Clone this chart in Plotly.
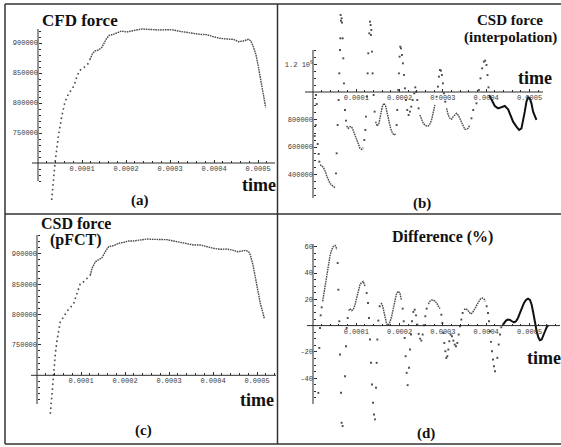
import plotly.graph_objects as go

W, H = 561, 447

# ---------------- data ----------------
# (a) CFD force [N] against time [microseconds]
cfd_t_us = [31.1, 38.6, 46.2, 53.8, 61.4, 68.9, 76.5, 81.8, 87.9, 93.9,
            99.2, 106.8, 112.1, 118.2, 124.2, 129.5, 137.1, 144.7, 150.0, 156.1,
            162.1, 171.2, 182.6, 190.2, 201.5, 212.9, 224.2, 235.6, 247.0, 262.1,
            277.3, 292.4, 307.6, 322.7, 337.9, 353.0, 368.2, 383.3, 398.5, 413.6,
            428.8, 443.9, 455.3, 466.7, 478.0, 483.3, 489.4, 495.5, 500.8, 506.1,
            510.6, 514.4, 517.4]
cfd_force = [638300, 699500, 743900, 777200, 802200, 814400, 822800, 828300, 842800, 853900,
             856700, 860600, 863300, 872800, 882800, 886700, 888300, 892200, 899400, 907800,
             912800, 914400, 917800, 920000, 918300, 920500, 921700, 923300, 922800, 922800,
             921700, 922200, 921700, 919400, 917200, 916100, 914400, 913900, 910500, 907800,
             906700, 906100, 902200, 903300, 906100, 903900, 893900, 880000, 860600, 838300,
             818900, 805000, 792800]

# (c) CSD force obtained with pFCT
pfct_t_us = [30.3, 34.1, 37.9, 41.7, 45.5, 49.2, 53.0, 60.6, 68.2, 75.8,
             83.3, 90.9, 98.5, 106.1, 113.6, 121.2, 125.0, 132.6, 140.2, 147.7,
             155.3, 162.9, 174.2, 185.6, 197.0, 208.3, 219.7, 234.8, 250.0, 265.2,
             280.3, 295.5, 310.6, 325.8, 340.9, 356.1, 371.2, 386.4, 401.5, 416.7,
             431.8, 447.0, 454.5, 462.1, 473.5, 481.1, 484.8, 490.9, 496.2, 501.5,
             507.6, 512.9, 516.7]
pfct_force = [636800, 672500, 705500, 735700, 757700, 776900, 787900, 796200, 805500, 811000,
              818100, 834600, 851100, 853900, 859400, 864900, 875800, 886800, 889600, 893400,
              903300, 911600, 913200, 917100, 918700, 920900, 920900, 922500, 924200, 923600,
              923100, 923100, 920900, 918700, 916500, 914300, 914300, 911000, 908800, 907200,
              907700, 905500, 903300, 903900, 905500, 903300, 897800, 881300, 859400, 837400,
              818100, 804400, 793400]

# (b) CSD force obtained by interpolation: smooth stretches (None separates them)
interp_curve_t_us = [16.2, 20.0, 23.8, 27.7, 31.5, 35.4, 39.2, 43.1, 46.9, 50.8, None,
                     77.7, 81.5, 85.4, 89.2, 93.1, 96.9, 100.7, 104.6, 108.5, 112.3, 116.2, None,
                     144.6, 148.5, 152.3, 156.2, 160.0, 163.8, 167.7, 171.5, 175.4, 179.2, 183.1, 186.9, 190.8, None,
                     246.9, 250.8, 254.6, 258.5, 262.3, 266.2, 270.0, 273.8, 277.7, 281.5, None,
                     308.5, 312.3, 316.2, 320.0, 323.8, 327.6, 331.4, 335.3, 339.1, 343.0, 346.8, 350.7, 354.5, 358.3, 362.2]
interp_curve_force = [469100, 464300, 452200, 427900, 391600, 360000, 335800, 323700, 311600, 304300, None,
                      752800, 735800, 747900, 747900, 718800, 687300, 650900, 614600, 590300, 583100, 595200, None,
                      784300, 752800, 772100, 832700, 893300, 917600, 898200, 844900, 784300, 735800, 704300, 687300, 694600, None,
                      832700, 796400, 772100, 760000, 752800, 752800, 767300, 796400, 844900, 905500, None,
                      881200, 832700, 808500, 801200, 820600, 832700, 844900, 832700, 808500, 777000, 747900, 728500, 728500, 735800, 760000]
# final, densely sampled stretch
interp_tail_t_us = [406.8, 412.2, 419.9, 427.6, 435.3, 442.9, 450.6, 456.0, 462.1, 469.8, 476.0,
                    481.4, 485.2, 489.1, 492.9, 496.8, 500.6, 504.5, 508.3, 512.2, 516.0]
interp_tail_force = [978200, 941800, 898200, 881200, 888500, 898200, 873900, 832700, 784300, 747900, 723700,
                     735800, 784300, 857000, 929700, 961200, 953900, 917600, 857000, 820600, 796400]
# isolated samples
interp_dots_t_us = [6.9, 8.5, 6.2, 3.8, 10.8, 13.1, 14.6,
                    53.1, 54.6, 56.9, 59.2, 60.8, 62.3, 63.1, 64.6, 63.8, 66.1, 66.9, 68.5, 70.0, 71.5, 73.8, 76.2,
                    118.5, 120.8, 122.3, 124.6, 126.2, 127.7, 130.0, 131.5, 133.1, 134.6, 133.8, 136.2, 137.7, 140.0, 142.3,
                    193.1, 194.6, 196.9, 198.5, 200.0, 201.5, 203.1, 205.4, 207.7, 210.0, 212.3, 214.6, 217.7, 220.8,
                    223.8, 226.9, 230.0, 233.8, 236.2, 238.5, 240.8, 243.8,
                    285.4, 288.5, 290.8, 293.1, 295.4, 297.7, 300.0, 302.3, 305.4,
                    366.0, 369.9, 377.6, 383.0, 386.8, 390.7, 394.5, 397.6, 400.7, 403.0, 405.3]
interp_dots_force = [978200, 912700, 760000, 680000, 621800, 549100, 493400,
                     408500, 554000, 760000, 941800, 1135700, 1305400, 1390300, 1518700, 1559900, 1535700, 1504200,
                     1390300, 1244800, 1063000, 869100, 791500,
                     650900, 723700, 820600, 966100, 1135700, 1281200, 1426600, 1511500, 1487200, 1450900, 1414500,
                     1293300, 1135700, 978200, 857000,
                     760000, 869100, 1014500, 1135700, 1256900, 1329700, 1317500, 1269100, 1208500, 1123600, 1026700,
                     941800, 869100, 832700, 857000, 893300, 941800, 990300, 1033900, 1002400, 941800, 881200,
                     966100, 1038800, 1111500, 1160000, 1155100, 1123600, 1063000, 990300, 929700,
                     808500, 869100, 917600, 1014500, 1099400, 1172100, 1220600, 1227900, 1196300, 1123600, 1033900]

# (d) difference between the two forces [%]
diff_curve_t_us = [22.3, 25.4, 28.5, 31.6, 35.4, 39.3, 43.1, 47.0, 50.8, 53.1, 54.7, None,
                   82.4, 85.4, 89.3, 93.1, 97.0, 100.8, 104.7, 108.5, 112.4, 116.2, 120.1, None,
                   157.0, 160.1, 163.2, 166.3, 170.1, 174.0, 177.8, 181.7, 185.5, 189.4, 193.2, 197.1, 200.9, 204.0, None,
                   266.4, 270.2, 274.1, 277.9, 281.7, 285.6, 289.4, 293.3, None,
                   348.7, 352.6, 356.4, 360.3, 364.1, 368.0, 371.8, 375.7, 379.5, 383.4, 387.2, 391.1, 394.9, 398.0]
diff_curve_pct = [18.5, 24.8, 31.1, 38.7, 46.3, 53.1, 57.7, 60.2, 61.0, 60.2, 57.7, None,
                  11.4, 12.9, 11.4, 12.1, 15.9, 21.0, 27.3, 31.1, 32.9, 33.6, 29.9, None,
                  17.2, 15.9, 11.4, 5.8, 1.3, 0.3, 2.8, 7.1, 13.9, 20.5, 24.8, 26.1, 24.5, 19.7, None,
                  16.4, 18.5, 19.5, 19.5, 18.5, 17.2, 14.7, 12.9, None,
                  12.1, 12.9, 12.1, 10.4, 8.9, 9.6, 11.4, 13.9, 16.4, 19.0, 20.5, 21.0, 20.2, 18.5]
diff_tail_t_us = [438.0, 441.9, 445.7, 450.3, 455.0, 459.6, 464.2, 468.8, 473.4, 478.0, 482.7, 487.3, 491.9,
                  496.5, 501.1, 505.0, 508.8, 512.7, 516.5, 520.4, 524.2, 528.1, 531.9, 535.8, 539.6, 543.5]
diff_tail_pct = [0.3, 2.0, 3.8, 4.6, 4.3, 3.3, 2.5, 3.3, 5.8, 9.6, 13.9, 17.2, 19.5,
                 20.5, 19.5, 15.9, 9.6, 2.0, -4.3, -8.9, -11.1, -10.6, -8.1, -4.3, -1.3, 0.3]
diff_dots_t_us = [12.3, 14.6, 16.2, 17.7, 20.0,
                  57.0, 58.5, 60.8, 62.4, 64.7, 66.2, 68.5, 73.9, 76.2, 77.7, 80.1,
                  123.9, 127.0, 129.3, 131.6, 134.0, 136.3, 138.6, 140.9, 143.2, 145.5, 147.0, 148.6, 150.9, 154.0,
                  207.1, 209.4, 211.7, 214.0, 216.3, 218.6, 221.7, 224.0, 226.3, 228.6, 231.7, 234.8, 237.9, 240.9,
                  244.0, 247.1, 250.2, 253.3, 256.3, 259.4, 262.5,
                  296.4, 298.7, 301.0, 303.3, 305.6, 307.9, 310.2, 312.5, 314.8, 317.9, 321.0, 324.1, 327.2, 330.2,
                  333.3, 336.4, 339.5, 342.6, 345.6,
                  401.1, 404.1, 406.5, 408.8, 411.1, 413.4, 415.7, 418.0, 420.3, 425.7, 428.8, 431.9, 434.9]
diff_dots_pct = [-51.1, -17.0, -1.8, 7.8, 13.9,
                 47.6, 27.3, 3.3, -22.0, -51.1, -73.9, -76.4, -38.5, -15.7, -1.8, 5.8,
                 24.8, 17.2, 5.8, -10.6, -28.3, -44.8, -58.7, -67.6, -71.3, -47.3, -28.3, -10.6, 3.8, 14.7,
                 12.9, 3.3, -9.4, -23.3, -35.9, -45.3, -32.1, -18.2, -6.8, 3.3, 10.4, 12.1, 7.8, 0.8,
                 -6.3, -9.9, -11.4, -6.8, 0.3, 7.1, 12.9,
                 8.3, 2.0, -5.6, -13.2, -19.5, -24.5, -23.3, -18.2, -11.9, -6.8, -8.1, -11.4, -14.4, -15.7,
                 -13.2, -6.8, -0.5, 4.6, 9.6,
                 14.7, 9.6, 3.3, -4.3, -12.4, -19.5, -25.8, -30.9, -34.7, -24.5, -14.4, -6.8, -1.3]

time_ticks = [0.0001, 0.0002, 0.0003, 0.0004, 0.0005]
time_tick_labels = ["0.0001", "0.0002", "0.0003", "0.0004", "0.0005"]
force_ticks = [750000, 800000, 850000, 900000]
force_tick_labels = ["750000", "800000", "850000", "900000"]
interp_ticks = [400000, 600000, 800000, 1200000]
interp_tick_labels = ["400000", "600000", "800000", "1.2 10<sup>6</sup>"]
diff_ticks = [-40, -20, 20, 40, 60]
diff_tick_labels = ["-40", "-20", "20", "40", "60"]


def seconds(ts):
    return [None if t is None else t * 1e-6 for t in ts]


# ---------------- panel geometry (pixels) ----------------
# ox: pixel of t = 0, sx: pixels per second; oy: pixel of value vref, sy: pixels per unit
panels = [
    dict(name="a", dom=(6, 277, 5, 213), ox=38, sx=44 / 1e-4, oy=163, vref=700000, sy=30 / 50000,
         xline=(32, 275), yline=(29, 181), ymin_step=10000,
         yt=force_ticks, ytl=force_tick_labels),
    dict(name="b", dom=(278, 561, 5, 213), ox=313, sx=43.3 / 1e-4, oy=92, vref=1000000, sy=27.5 / 200000,
         xline=(305, 543), yline=(50, 198), ymin_step=50000,
         yt=interp_ticks, ytl=interp_tick_labels),
    dict(name="c", dom=(6, 277, 215, 443), ox=37, sx=44 / 1e-4, oy=375.3, vref=700000, sy=30.4 / 50000,
         xline=(31, 276), yline=(235, 404), ymin_step=10000,
         yt=force_ticks, ytl=force_tick_labels),
    dict(name="d", dom=(278, 561, 215, 443), ox=313, sx=43.3 / 1e-4, oy=325.6, vref=0, sy=26.3 / 20,
         xline=(307, 560), yline=(244, 404), ymin_step=5,
         yt=diff_ticks, ytl=diff_tick_labels),
]


def px_t(p, px):
    return (px - p["ox"]) / p["sx"]


def py_v(p, py):
    return p["vref"] + (p["oy"] - py) / p["sy"]


INK = "#2b2b2b"
DOT = "#4a4a4a"
TICKFONT = dict(family="Liberation Mono", size=7, color="#3a3a3a")

fig = go.Figure()
layout = dict(width=W, height=H, margin=dict(l=0, r=0, t=0, b=0),
              paper_bgcolor="white", plot_bgcolor="rgba(0,0,0,0)", showlegend=False)
shapes = []

for i, p in enumerate(panels, start=1):
    sfx = "" if i == 1 else str(i)
    x0, x1, y0, y1 = p["dom"]
    t_lo, t_hi = px_t(p, p["xline"][0]), px_t(p, p["xline"][1])
    v_lo, v_hi = py_v(p, p["yline"][1]), py_v(p, p["yline"][0])

    step_t = 2e-5
    xminor = [k * step_t for k in range(int(t_lo / step_t), int(t_hi / step_t) + 1)
              if k != 0 and k % 5 != 0 and t_lo <= k * step_t <= t_hi]
    ys = p["ymin_step"]
    yminor = [k * ys for k in range(int(v_lo / ys), int(v_hi / ys) + 1)
              if v_lo <= k * ys <= v_hi and k * ys != p["vref"] and k * ys not in p["yt"]]

    layout["xaxis" + sfx] = dict(
        domain=[x0 / W, x1 / W], range=[px_t(p, x0), px_t(p, x1)],
        anchor="free", position=1 - p["oy"] / H,
        showgrid=False, zeroline=False, showline=False,
        tickmode="array", tickvals=time_ticks, ticktext=time_tick_labels,
        ticks="inside", ticklen=3, tickwidth=1, tickcolor=INK, tickfont=TICKFONT,
        minor=dict(tickmode="array", tickvals=xminor, ticks="inside", ticklen=2, tickwidth=1, tickcolor=INK),
        fixedrange=True)
    layout["yaxis" + sfx] = dict(
        domain=[1 - y1 / H, 1 - y0 / H], range=[py_v(p, y1), py_v(p, y0)],
        anchor="free", position=p["ox"] / W,
        showgrid=False, zeroline=False, showline=False,
        tickmode="array", tickvals=p["yt"], ticktext=p["ytl"],
        ticks="inside", ticklen=3, tickwidth=1, tickcolor=INK, tickfont=TICKFONT,
        minor=dict(tickmode="array", tickvals=yminor, ticks="inside", ticklen=2, tickwidth=1, tickcolor=INK),
        fixedrange=True)

    xr, yr = "x" + sfx, "y" + sfx
    shapes.append(dict(type="line", xref=xr, yref=yr, x0=t_lo, x1=t_hi, y0=p["vref"], y1=p["vref"],
                       line=dict(color=INK, width=1)))
    shapes.append(dict(type="line", xref=xr, yref=yr, x0=0, x1=0, y0=v_lo, y1=v_hi,
                       line=dict(color=INK, width=1)))
    p["xr"], p["yr"] = xr, yr


def add_sparse_line(p, t, v):
    fig.add_trace(go.Scatter(x=seconds(t), y=v, mode="lines", xaxis=p["xr"], yaxis=p["yr"],
                             line=dict(color=DOT, width=1.6, dash="1.6px,3.2px"), hoverinfo="skip"))


def add_dense_line(p, t, v, width=1.4, dash="1.6px,0.8px", color=DOT):
    fig.add_trace(go.Scatter(x=seconds(t), y=v, mode="lines", xaxis=p["xr"], yaxis=p["yr"],
                             line=dict(color=color, width=width, dash=dash), connectgaps=False,
                             hoverinfo="skip"))


def add_dots(p, t, v):
    fig.add_trace(go.Scatter(x=seconds(t), y=v, mode="markers", xaxis=p["xr"], yaxis=p["yr"],
                             marker=dict(color=DOT, size=1.9, symbol="square", line=dict(width=0)),
                             cliponaxis=False, hoverinfo="skip"))


pa, pb, pc, pd = panels
# (a)
ka = 13
add_sparse_line(pa, cfd_t_us[:ka + 1], cfd_force[:ka + 1])
add_dense_line(pa, cfd_t_us[ka:], cfd_force[ka:])
# (c)
kc = 15
add_sparse_line(pc, pfct_t_us[:kc + 1], pfct_force[:kc + 1])
add_dense_line(pc, pfct_t_us[kc:], pfct_force[kc:])
# (b)
add_dense_line(pb, interp_curve_t_us, interp_curve_force)
add_dense_line(pb, interp_tail_t_us, interp_tail_force, width=2, dash="solid", color="#111111")
add_dots(pb, interp_dots_t_us, interp_dots_force)
# (d)
add_dense_line(pd, diff_curve_t_us, diff_curve_pct)
add_dense_line(pd, diff_tail_t_us, diff_tail_pct, width=2, dash="solid", color="#111111")
add_dots(pd, diff_dots_t_us, diff_dots_pct)

# ---------------- frame ----------------
FRAME = dict(color="#333333", width=1.5)
for (ax0, ay0, ax1, ay1) in [(5, 4, 561, 4), (5, 4, 5, 444), (277.5, 4, 277.5, 444),
                             (5, 214, 561, 214), (5, 444, 561, 444)]:
    shapes.append(dict(type="line", xref="paper", yref="paper", x0=ax0 / W, x1=ax1 / W,
                       y0=1 - ay0 / H, y1=1 - ay1 / H, line=FRAME))
layout["shapes"] = shapes

# ---------------- texts ----------------
SERIF = "Liberation Serif"


def label(text, xpx, ypx, size):
    return dict(text="<b>%s</b>" % text, x=xpx / W, y=1 - ypx / H, xref="paper", yref="paper",
                xanchor="center", yanchor="middle", showarrow=False,
                font=dict(family=SERIF, size=size, color="#111111"))


layout["annotations"] = [
    label("CFD force", 80, 20, 17),
    label("CSD force", 510, 20, 15),
    label("(interpolation)", 510, 37.5, 15),
    label("CSD force", 76, 223, 16),
    label("(pFCT)", 76, 240, 16),
    label("Difference (%)", 442, 237, 16),
    label("time", 259, 185, 18),
    label("time", 535, 78, 18),
    label("time", 257, 400, 18),
    label("time", 544, 358, 18),
    label("(a)", 140, 200, 15),
    label("(b)", 422, 203, 15),
    label("(c)", 143, 430, 15),
    label("(d)", 426, 433, 15),
]

fig.update_layout(**layout)
fig.write_html("out.html")
